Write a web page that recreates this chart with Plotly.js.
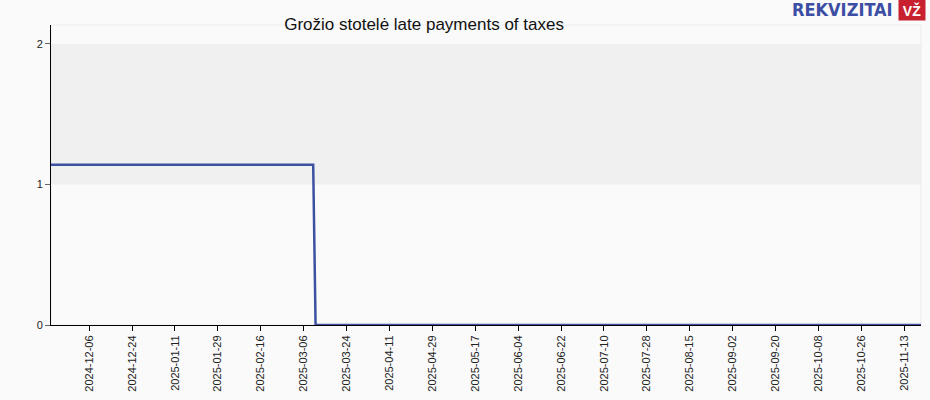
<!DOCTYPE html>
<html>
<head>
<meta charset="utf-8">
<script src="https://cdn.plot.ly/plotly-3.0.1.min.js"></script>
<style>html,body{margin:0;padding:0;background:#fafafa;}#chart{width:930px;height:400px;}</style>
</head>
<body>
<div id="chart"></div>
<script>
const dates = ['2024-11-20', '2025-03-10', '2025-03-11', '2025-11-20'];
const values = [1.14, 1.14, 0, 0];
const yTicks = [0, 1, 2];
const titleText = 'Grožio stotelė late payments of taxes';

const trace = {
  x: dates, y: values, type: 'scatter', mode: 'lines',
  line: {color: '#3d51a3', width: 2.5}, hoverinfo: 'skip'
};

const layout = {
  width: 930, height: 400,
  margin: {l: 51, r: 9, t: 25, b: 75},
  paper_bgcolor: '#fafafa', plot_bgcolor: '#fafafa',
  showlegend: false,
  font: {family: 'Liberation Sans, Arial, sans-serif', size: 11, color: '#222'},
  title: {text: titleText, x: 0.456, xanchor: 'center', y: 0.94, yanchor: 'middle',
          font: {size: 17, color: '#111', family: 'Liberation Sans, Arial, sans-serif'}},
  xaxis: {
    type: 'date', range: ['2024-11-20', '2025-11-20'],
    tick0: '2024-12-06', dtick: 18 * 86400000, tickformat: '%Y-%m-%d', tickangle: -90,
    ticks: 'outside', ticklen: 5, tickcolor: '#000', showgrid: false, zeroline: false,
    showline: true, linecolor: '#000', linewidth: 1, tickfont: {size: 11, color: '#222'}
  },
  yaxis: {
    range: [0, 2.135], tickvals: yTicks, ticktext: yTicks.map(String),
    ticks: 'outside', ticklen: 5, tickcolor: '#666', showgrid: false, zeroline: false,
    showline: true, linecolor: '#000', linewidth: 1, tickfont: {size: 11, color: '#222'}
  },
  shapes: [
    {type: 'rect', xref: 'paper', yref: 'y', x0: 0, x1: 1, y0: 1, y1: 2,
     fillcolor: '#f0f0f0', line: {width: 0}, layer: 'below'},
    {type: 'rect', xref: 'paper', yref: 'paper', x0: 0, x1: 1, y0: 0, y1: 1,
     fillcolor: 'rgba(0,0,0,0)', line: {width: 1, color: '#ececec'}, layer: 'below'}
  ],
  annotations: [
    {text: '<b>REKVIZITAI</b>', xref: 'paper', yref: 'paper', x: 0.970, y: 1.05,
     xanchor: 'right', yanchor: 'middle', showarrow: false,
     font: {family: 'DejaVu Sans Condensed, DejaVu Sans, sans-serif', size: 18, color: '#3b4ea3'}},
    {text: '<b>VŽ</b>', xref: 'paper', yref: 'paper', x: 0.9897, y: 1.05,
     xanchor: 'center', yanchor: 'middle', showarrow: false, bgcolor: '#c8202f',
     borderpad: 0, width: 26, height: 20,
     font: {family: 'Liberation Sans, Arial, sans-serif', size: 14, color: '#fff'}}
  ]
};

Plotly.newPlot('chart', [trace], layout, {displayModeBar: false, staticPlot: true});
</script>
</body>
</html>
